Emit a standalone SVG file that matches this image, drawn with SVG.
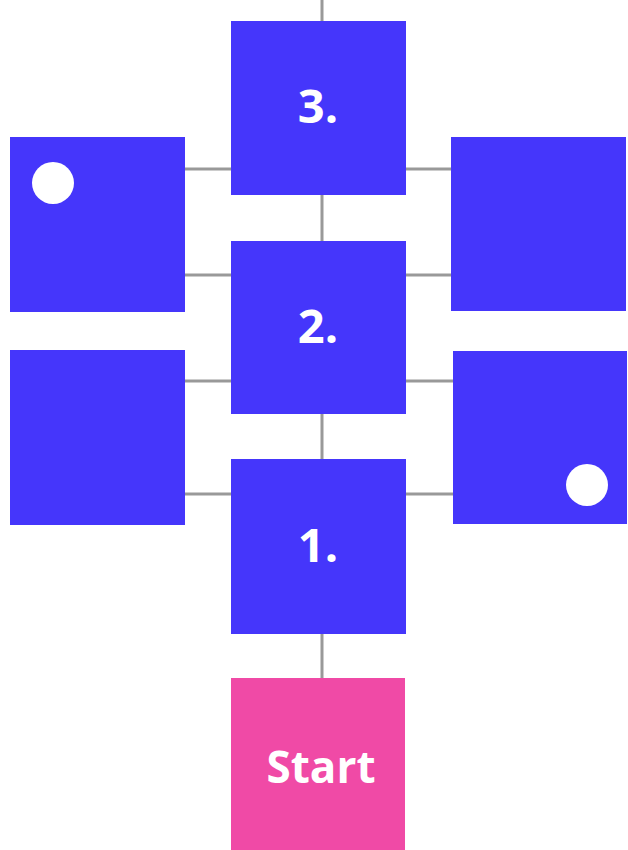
<svg xmlns="http://www.w3.org/2000/svg" width="628" height="850" viewBox="0 0 628 850">
<style>
.b{fill:#4536fb}
.s{fill:#f04aa6}
.c{stroke:#999;stroke-width:3;fill:none}
.t{fill:#fff;font-family:"Open Sans","Noto Sans",sans-serif;font-weight:bold;text-anchor:middle}
.n{font-size:47px}
.d{fill:#fff}
</style>
<rect width="628" height="850" fill="#fff"/>
<g id="connectors">
<path class="c" d="M322 0V21M322 195V241M322 414V459M322 634V678"/>
<path class="c" d="M185 169H231M185 275H231M185 381H231M185 494H231"/>
<path class="c" d="M406 169H451M406 275H451M406 381H453M406 494H453"/>
</g>
<g id="n3"><rect class="b" x="231" y="21" width="175" height="174"/><text class="t n" x="318" y="123">3.</text></g>
<g id="n2"><rect class="b" x="231" y="241" width="175" height="173"/><text class="t n" x="318" y="343">2.</text></g>
<g id="n1"><rect class="b" x="231" y="459" width="175" height="175"/><text class="t n" x="318" y="562">1.</text></g>
<g id="start"><rect class="s" x="231" y="678" width="174" height="172"/><text class="t" x="321" y="783" font-size="44">Start</text></g>
<g id="tl"><rect class="b" x="10" y="137" width="175" height="175"/><circle class="d" cx="53" cy="183" r="21"/></g>
<g id="tr"><rect class="b" x="451" y="137" width="175" height="174"/></g>
<g id="bl"><rect class="b" x="10" y="350" width="175" height="175"/></g>
<g id="br"><rect class="b" x="453" y="351" width="174" height="173"/><circle class="d" cx="587" cy="485" r="21"/></g>
</svg>
